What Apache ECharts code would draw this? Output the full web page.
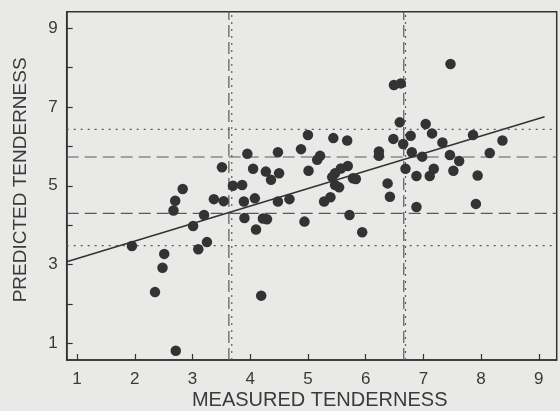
<!DOCTYPE html>
<html>
<head>
<meta charset="utf-8">
<script src="https://cdn.jsdelivr.net/npm/echarts@6/dist/echarts.min.js"></script>
<style>
html,body{margin:0;padding:0;background:#e9e9e8;}
#chart{width:560px;height:411px;}
</style>
</head>
<body>
<div id="chart"></div>
<script>
// Measured tenderness (x) and predicted tenderness (y)
var measured = [1.95,2.51,2.48,2.35,2.71,2.70,2.67,2.83,3.01,3.10,3.25,3.20,3.37,3.54,3.51,3.70,3.86,3.89,3.90,3.95,4.05,4.08,4.10,4.19,4.22,4.29,4.27,4.36,4.48,4.50,4.48,4.68,4.88,5.00,5.01,4.94,5.21,5.16,5.28,5.39,5.44,5.68,5.69,5.57,5.47,5.42,5.78,5.83,5.47,5.54,5.72,5.94,6.23,6.23,6.38,6.42,6.49,6.61,6.59,6.48,6.65,6.78,6.80,6.69,6.88,6.88,7.04,7.15,7.33,6.98,7.11,7.18,7.47,7.46,7.62,7.52,7.86,7.94,7.91,8.15,8.37];
var predicted = [3.47,3.27,2.92,2.30,0.81,4.62,4.37,4.92,3.98,3.39,3.57,4.26,4.66,4.61,5.47,5.00,5.02,4.60,4.18,5.81,5.43,4.68,3.89,2.21,4.17,4.15,5.36,5.15,5.85,5.32,4.60,4.66,5.93,6.29,5.38,4.09,5.76,5.66,4.60,4.71,6.21,6.15,5.50,5.44,5.32,5.22,5.19,5.17,5.02,4.96,4.26,3.82,5.87,5.76,5.06,4.72,7.56,7.60,6.61,6.19,6.06,6.27,5.85,5.43,5.25,4.46,6.57,6.33,6.10,5.74,5.25,5.43,8.09,5.78,5.63,5.38,6.29,5.26,4.54,5.83,6.15];
// regression line end points
var regX = [0.82, 9.10];
var regY = [3.07, 6.755];
// reference cut-offs
var vertDash = [3.63, 6.66];
var vertDot = [3.68, 6.69];
var horizDash = [5.73, 4.30];
var horizDot = [6.43, 3.48];
// axes
var xMin = 0.82, xMax = 9.31, yMin = 0.576, yMax = 9.42;
var xTicks = [1,2,3,4,5,6,7,8,9];
var yTicks = [1,2,3,4,5,6,7,8,9];
var yLabels = [1,3,5,7,9];

var pts = measured.map(function(v,i){return [v, predicted[i]];});
var refColor = '#5a5a5a';
var series = [];
vertDash.forEach(function(v){
  series.push({type:'line',symbol:'none',silent:true,data:[[v,yMin],[v,yMax]],
    lineStyle:{color:refColor,width:1.2,type:[12,5]},z:2});
});
vertDot.forEach(function(v){
  series.push({type:'line',symbol:'none',silent:true,data:[[v,yMin],[v,yMax]],
    lineStyle:{color:refColor,width:1.2,type:[2,5]},z:2});
});
horizDash.forEach(function(v){
  series.push({type:'line',symbol:'none',silent:true,data:[[xMin,v],[xMax,v]],
    lineStyle:{color:refColor,width:1.2,type:[12,6]},z:2});
});
horizDot.forEach(function(v){
  series.push({type:'line',symbol:'none',silent:true,data:[[xMin,v],[xMax,v]],
    lineStyle:{color:refColor,width:1.2,type:[2,5]},z:2});
});
series.push({type:'line',symbol:'none',silent:true,
  data:[[regX[0],regY[0]],[regX[1],regY[1]]],
  lineStyle:{color:'#333',width:1.6},z:3});
series.push({type:'scatter',data:pts,symbolSize:10.5,
  itemStyle:{color:'#333333',opacity:1},z:5});

var chart = echarts.init(document.getElementById('chart'),null,{renderer:'canvas'});
chart.setOption({
  backgroundColor:'#e9e9e8',
  animation:false,
  grid:{left:66.7,top:11.7,right:3.3,bottom:51,outerBoundsMode:'none',containLabel:false,show:true,borderColor:'#333',borderWidth:1.5,backgroundColor:'transparent'},
  xAxis:{type:'value',min:xMin,max:xMax,
    name:'MEASURED TENDERNESS',nameLocation:'middle',nameGap:30,nameMoveOverlap:false,
    nameTextStyle:{fontFamily:'Liberation Sans, Arial, sans-serif',fontSize:20,color:'#3a3a3a',padding:[0,0,0,16]},
    axisLine:{show:true,lineStyle:{color:'#333',width:1.5}},
    axisTick:{show:true,inside:true,length:6,customValues:xTicks,lineStyle:{color:'#333',width:1.2}},
    axisLabel:{customValues:xTicks,margin:11,fontFamily:'Liberation Sans, Arial, sans-serif',fontSize:17,color:'#3a3a3a'},
    splitLine:{show:false}},
  yAxis:{type:'value',min:yMin,max:yMax,
    name:'PREDICTED TENDERNESS',nameLocation:'middle',nameGap:36,nameRotate:90,nameMoveOverlap:false,
    nameTextStyle:{fontFamily:'Liberation Sans, Arial, sans-serif',fontSize:19,color:'#3a3a3a',padding:[0,0,0,12]},
    axisLine:{show:true,lineStyle:{color:'#333',width:1.5}},
    axisTick:{show:true,inside:true,length:6,customValues:yTicks,lineStyle:{color:'#333',width:1.2}},
    axisLabel:{customValues:yLabels,margin:9,fontFamily:'Liberation Sans, Arial, sans-serif',fontSize:17,color:'#3a3a3a'},
    splitLine:{show:false}},
  series:series
});
</script>
</body>
</html>
